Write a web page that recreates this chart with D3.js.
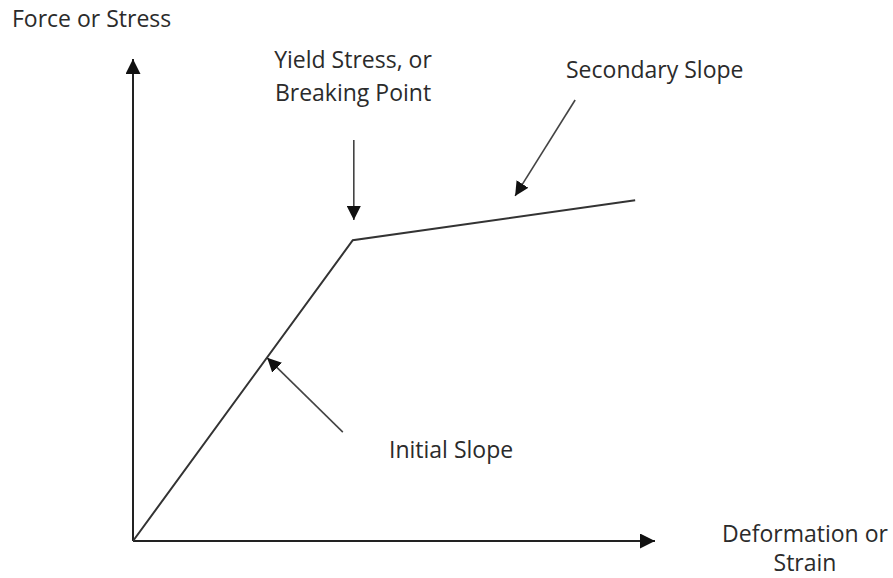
<!DOCTYPE html>
<html lang="en">
<head>
    <meta charset="UTF-8">
    <title>Force vs Deformation</title>
    <script src="https://d3js.org/d3.v7.min.js"></script>
    <style>
        body { margin: 0; background: #fff; font-family: 'Open Sans', sans-serif; }
        svg { display: block; }
        text { fill: #2b2b2b; font-size: 23px; }
    </style>
</head>
<body>
    <script>
        const width = 893;
        const height = 578;

        // the curve: deformation (x) vs force (y), arbitrary units
        const strain = [0, 4.21, 9.62];
        const stress = [0, 6.24, 7.07];

        // annotation arrows: [x1, y1, x2, y2] in data units, tip at x2,y2
        const arrowNames = ["yield", "secondary", "initial"];
        const arrowFrom = [[4.23, 8.32], [8.47, 9.15], [4.02, 2.26]];
        const arrowTo = [[4.23, 6.66], [7.32, 7.16], [2.57, 3.80]];

        const x = d3.scaleLinear().domain([0, 10]).range([133, 655]);
        const y = d3.scaleLinear().domain([0, 10]).range([541, 59]);

        const svg = d3.select("body").append("svg")
            .attr("width", width)
            .attr("height", height);

        const defs = svg.append("defs");
        defs.append("marker")
            .attr("id", "head")
            .attr("markerUnits", "userSpaceOnUse")
            .attr("viewBox", "0 0 14 14")
            .attr("refX", 14).attr("refY", 7)
            .attr("markerWidth", 15).attr("markerHeight", 15)
            .attr("orient", "auto")
            .append("path").attr("d", "M0,0 L14,7 L0,14 Z").attr("fill", "#111");
        defs.append("marker")
            .attr("id", "head-small")
            .attr("markerUnits", "userSpaceOnUse")
            .attr("viewBox", "0 0 14 14")
            .attr("refX", 14).attr("refY", 7)
            .attr("markerWidth", 14).attr("markerHeight", 14)
            .attr("orient", "auto")
            .append("path").attr("d", "M0,0 L14,7 L0,14 Z").attr("fill", "#111");

        // axes
        svg.append("line")
            .attr("x1", x(0)).attr("y1", y(0))
            .attr("x2", x(0)).attr("y2", y(10))
            .attr("stroke", "#222").attr("stroke-width", 2)
            .attr("marker-end", "url(#head)");
        svg.append("line")
            .attr("x1", x(0)).attr("y1", y(0))
            .attr("x2", x(10)).attr("y2", y(0))
            .attr("stroke", "#222").attr("stroke-width", 2)
            .attr("marker-end", "url(#head)");

        // curve
        const line = d3.line().x(d => x(d[0])).y(d => y(d[1]));
        svg.append("path")
            .datum(d3.zip(strain, stress))
            .attr("d", line)
            .attr("fill", "none")
            .attr("stroke", "#333")
            .attr("stroke-width", 2);

        // annotation arrows
        svg.selectAll(".note")
            .data(arrowNames)
            .join("line")
            .attr("class", "note")
            .attr("x1", (d, i) => x(arrowFrom[i][0]))
            .attr("y1", (d, i) => y(arrowFrom[i][1]))
            .attr("x2", (d, i) => x(arrowTo[i][0]))
            .attr("y2", (d, i) => y(arrowTo[i][1]))
            .attr("stroke", "#444")
            .attr("stroke-width", 1.6)
            .attr("marker-end", "url(#head-small)");

        // labels
        const label = (tx, ty, s, anchor) => svg.append("text")
            .attr("x", tx).attr("y", ty)
            .attr("text-anchor", anchor || "start")
            .text(s);

        label(12, 27, "Force or Stress");
        label(353, 68, "Yield Stress, or", "middle");
        label(353, 101, "Breaking Point", "middle");
        label(566, 78, "Secondary Slope");
        label(389, 458, "Initial Slope");
        label(805, 542, "Deformation or", "middle");
        label(805, 571, "Strain", "middle");
    </script>
</body>
</html>
